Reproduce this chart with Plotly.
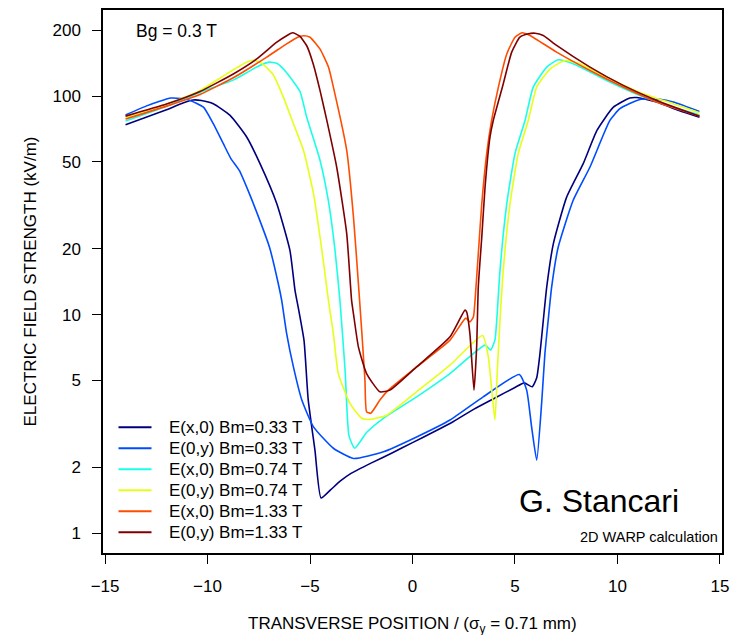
import plotly.graph_objects as go

# ---------------- data ----------------
series_names = ["E(x,0) Bm=0.33 T", "E(0,y) Bm=0.33 T", "E(x,0) Bm=0.74 T",
                "E(0,y) Bm=0.74 T", "E(x,0) Bm=1.33 T", "E(0,y) Bm=1.33 T"]
series_colors = ["#00007F", "#004CFF", "#19FFE5", "#E5FF19", "#FF4C00", "#7F0000"]

x_ex033 = [-14, -13, -12, -11.2, -10.7, -10.3, -9.72, -8.9, -8.09, -7.44, -6.62, -5.98, -5.73, -5.55,
           -5.29, -5.09, -4.76, -4.46, -4.0, -3.5, -3.0, -2.0, -1.0, 0, 1.0, 2.0, 3.0, 4.0, 5.0, 5.45,
           5.84, 6.06, 6.22, 6.38, 6.55, 6.87, 7.52, 8.33, 9.0, 9.8, 10.6, 10.95, 11.9, 13.0, 14]
y_ex033 = [74, 80, 86.7, 93, 96, 95.5, 92.3, 81.6, 65, 49.1, 32.2, 19.7, 12.9, 10.5,
           7.6, 4.1, 2.4, 1.45, 1.58, 1.74, 1.88, 2.1, 2.33, 2.6, 2.9, 3.25, 3.7, 4.15, 4.65, 4.88,
           4.68, 5.15, 6.65, 9.4, 13.4, 21.1, 34.5, 49.1, 69.7, 89, 98, 98.5, 94, 86, 80]

x_ey033 = [-14, -13, -12.3, -11.8, -11.3, -10.85, -10.2, -9.72, -9.23, -8.86, -8.45, -7.96, -7.39,
           -6.98, -6.55, -6.38, -6.14, -5.81, -5.4, -4.83, -3.86, -2.88, -1.42, 0.2, 1.83, 3.45, 5.21,
           5.57, 5.81, 6.06, 6.3, 6.46, 6.62, 6.79, 7.11, 7.84, 8.66, 9.63, 10.12, 11.1, 12.07, 12.72, 14]
y_ey033 = [82, 90, 95, 98, 97.5, 95.6, 89, 74.8, 60.6, 51.8, 45.7, 35.8, 26.1,
           20.4, 13.9, 11.6, 8.2, 5.77, 4.07, 3.07, 2.45, 2.20, 2.36, 2.76, 3.30, 4.21, 5.33,
           4.52, 3.07, 2.16, 3.93, 6.65, 9.44, 13.4, 20.4, 33.4, 47.4, 77.4, 87.6, 96.6, 96.6, 93.9, 85.1]

x_ex074 = [-14, -12, -10.37, -8.7, -7.6, -7.0, -6.6, -6.14, -5.49, -5.16, -4.51, -4.11, -3.78, -3.54,
           -3.29, -3.1, -2.82, -2.23, -1.42, 0.2, 1.83, 3.54, 3.81, 4.02, 4.11, 4.27, 4.6, 5.0, 5.49,
           5.89, 6.55, 7.11, 7.84, 9.47, 11.1, 12.72, 14]
y_ex074 = [77, 90, 104, 119, 136, 143, 141, 128, 105, 80, 50.8, 33.4, 19.7, 11.6,
           5.6, 2.8, 2.45, 2.9, 3.36, 4.21, 5.38, 7.26, 6.89, 7.65, 9.44, 16, 32.2, 54.6, 77.4,
           110, 135.8, 146.6, 140.6, 118, 100.7, 89.1, 82]

x_ey074 = [-14, -12, -10.37, -9.06, -8.1, -7.75, -7.3, -6.79, -6.3, -5.81, -5.32, -4.83, -4.42, -4.1,
           -3.86, -3.62, -3.05, -2.48, -2.07, -1.26, 0.2, 1.83, 3.42, 3.7, 4.02, 4.14, 4.27, 4.43, 4.76,
           5.16, 5.65, 6.06, 6.71, 7.44, 8.17, 9.47, 11.1, 12.72, 14]
y_ey074 = [80, 92, 106, 126.5, 143, 146, 140, 125, 99, 74.8, 56.5, 35.8, 19.7, 11.6,
           8.2, 5.38, 3.93, 3.36, 3.32, 3.47, 4.44, 5.88, 8.03, 6.41, 3.30, 5.58, 9.44, 16, 32.2,
           54.6, 77.4, 110, 133, 145.6, 140.6, 122, 104, 92.3, 84]

x_ex133 = [-14, -12, -10.37, -8.7, -7.11, -6.14, -5.6, -5.3, -5.0, -4.51, -4.1, -3.86, -3.21, -2.88,
           -2.64, -2.48, -2.32, -2.24, -2.04, -1.59, -1.18, 0.2, 1.83, 2.6, 2.8, 2.97, 3.05, 3.21, 3.38,
           3.62, 3.86, 4.19, 4.6, 5.0, 5.35, 5.73, 7.03, 8.66, 10.28, 11.91, 14]
y_ex133 = [78.5, 90, 101.8, 122, 150.8, 173.5, 186, 189, 186, 164, 135.8, 110, 56.5, 28,
           13.9, 8.5, 5.02, 3.6, 3.54, 4.07, 4.52, 5.77, 7.65, 9.65, 9.27, 9.77, 11.6, 19, 32.2,
           54.6, 77.4, 110, 156, 186, 195, 189.5, 159, 131, 110, 93.9, 81]

x_ey133 = [-14, -12, -10.37, -8.7, -7.6, -6.62, -6.1, -5.85, -5.5, -5.16, -4.84, -4.51, -4.18, -3.70,
           -3.21, -2.97, -2.88, -2.64, -2.24, -1.59, -1.1, 0.2, 1.83, 2.56, 2.64, 2.80, 3.0, 3.13, 3.21,
           3.38, 3.54, 3.78, 3.94, 4.43, 4.84, 5.24, 5.65, 5.98, 6.38, 7.03, 8.66, 10.28, 11.91, 14]
y_ey133 = [81, 92, 105, 127, 148, 176.5, 190, 195, 188, 170, 140, 106, 77.4, 47.4,
           23.5, 11.6, 10.1, 7.13, 5.38, 4.44, 4.52, 5.77, 7.92, 10.5, 10.3, 8.2, 4.52, 7.13, 13.4,
           22.7, 38.4, 65, 77.4, 114, 159, 186, 192.8, 194, 189.5, 170.6, 135.8, 112, 95.6, 81]

x_tick_vals = [-15, -10, -5, 0, 5, 10, 15]
x_tick_text = ["\u221215", "\u221210", "\u22125", "0", "5", "10", "15"]
y_tick_vals = [1, 2, 5, 10, 20, 50, 100, 200]
y_tick_text = ["1", "2", "5", "10", "20", "50", "100", "200"]

x_title = "TRANSVERSE POSITION / (\u03c3<sub>y</sub> = 0.71 mm)"
y_title = "ELECTRIC FIELD STRENGTH (kV/m)"

xs = [x_ex033, x_ey033, x_ex074, x_ey074, x_ex133, x_ey133]
ys = [y_ex033, y_ey033, y_ex074, y_ey074, y_ex133, y_ey133]

# ---------------- figure ----------------
W, H = 731, 635
ML, MR, MT, MB = 103, 9, 10, 82
PW, PH = W - ML - MR, H - MT - MB
FONT = "Liberation Sans, Arial, Helvetica, sans-serif"


def px_x(p):
    return (p - ML) / PW


def px_y(p):
    return (H - MB - p) / PH


fig = go.Figure()
for name, col, xv, yv in zip(series_names, series_colors, xs, ys):
    fig.add_trace(go.Scatter(x=xv, y=yv, mode="lines", name=name,
                             line=dict(color=col, width=1.6, shape="spline", smoothing=0.5),
                             showlegend=False))

# legend drawn inside the plot, bottom-left
shapes = []
annotations = []
leg_x0, leg_x1, leg_tx, leg_y0, leg_dy = 118.5, 151.5, 167, 427.3, 21.0
for i, (name, col) in enumerate(zip(series_names, series_colors)):
    yy = px_y(leg_y0 + i * leg_dy)
    shapes.append(dict(type="line", xref="paper", yref="paper", x0=px_x(leg_x0), x1=px_x(leg_x1),
                       y0=yy, y1=yy, line=dict(color=col, width=2)))
    annotations.append(dict(xref="paper", yref="paper", x=px_x(leg_tx), y=yy, text=name,
                            showarrow=False, xanchor="left", yanchor="middle",
                            font=dict(family=FONT, size=17, color="black")))

annotations.append(dict(xref="paper", yref="paper", x=px_x(134), y=px_y(31.5), text="Bg = 0.3 T",
                        showarrow=False, xanchor="left", yanchor="middle",
                        font=dict(family=FONT, size=17.5, color="black")))
annotations.append(dict(xref="paper", yref="paper", x=px_x(517), y=px_y(501), text="G. Stancari",
                        showarrow=False, xanchor="left", yanchor="middle",
                        font=dict(family=FONT, size=32, color="black")))
annotations.append(dict(xref="paper", yref="paper", x=px_x(720), y=px_y(536.5),
                        text="2D WARP calculation",
                        showarrow=False, xanchor="right", yanchor="middle",
                        font=dict(family=FONT, size=14.5, color="black")))
# x-axis title (placed as an annotation for exact vertical position)
annotations.append(dict(xref="paper", yref="paper", x=0.5, y=px_y(624.5), text=x_title,
                        showarrow=False, xanchor="center", yanchor="middle",
                        font=dict(family=FONT, size=17, color="black")))

fig.update_layout(
    width=W, height=H,
    margin=dict(l=ML, r=MR, t=MT, b=MB, pad=0, autoexpand=False),
    paper_bgcolor="white", plot_bgcolor="white",
    font=dict(family=FONT, size=17, color="black"),
    shapes=shapes, annotations=annotations,
    showlegend=False,
)
fig.update_xaxes(
    automargin=False,
    range=[-15.1, 15.1], tickvals=x_tick_vals, ticktext=x_tick_text,
    showgrid=False, zeroline=False, showline=True, mirror=True, linecolor="black", linewidth=1.5,
    ticks="outside", ticklen=9, tickwidth=1.2, tickcolor="black", ticklabelstandoff=8,
    tickfont=dict(family=FONT, size=17, color="black"),
)
fig.update_yaxes(
    automargin=True,
    type="log", range=[-0.09, 2.394], tickvals=y_tick_vals, ticktext=y_tick_text,
    showgrid=False, zeroline=False, showline=True, mirror=True, linecolor="black", linewidth=1.5,
    ticks="outside", ticklen=9, tickwidth=1.2, tickcolor="black", ticklabelstandoff=8,
    tickfont=dict(family=FONT, size=17, color="black"),
    title=dict(text=y_title, font=dict(family=FONT, size=17, color="black"), standoff=12),
)

fig.write_html("out.html")
